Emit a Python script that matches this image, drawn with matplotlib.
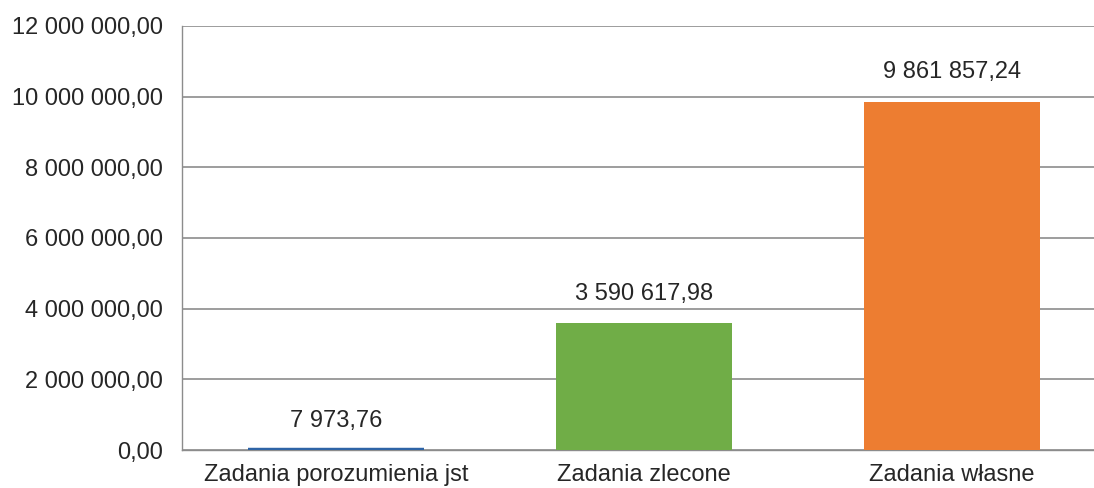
import matplotlib
matplotlib.use('Agg')
import matplotlib.pyplot as plt
from matplotlib.ticker import FuncFormatter

categories = ['Zadania porozumienia jst', 'Zadania zlecone', 'Zadania własne']
values = [7973.76, 3590617.98, 9861857.24]
colors = ['#2E64A6', '#70AD47', '#ED7D31']
yticks = [0, 2000000, 4000000, 6000000, 8000000, 10000000, 12000000]

plt.rcParams['font.family'] = ['Liberation Sans', 'DejaVu Sans']


def pl_fmt(v, pos=None):
    s = f'{v:,.2f}'
    return s.replace(',', ' ').replace('.', ',')


fig = plt.figure(figsize=(10.94, 4.88), dpi=100)
ax = fig.add_axes([182 / 1094, 38 / 488, 924 / 1094, 424 / 488])

x = range(len(categories))
# edge only on the tiny first bar so it still shows as a thin line, like Excel
ax.bar(x, values, width=0.57, color=colors, edgecolor=colors,
       linewidth=[3.2, 0, 0], zorder=3)
for xi, v in zip(x, values):
    ax.annotate(pl_fmt(v), (xi, v), xytext=(0, 13), textcoords='offset points',
                ha='center', va='bottom', fontsize=17, color='#262626')

ax.set_xlim(-0.5, 2.5)
ax.set_ylim(0, 12000000)
ax.set_yticks(yticks)
ax.yaxis.set_major_formatter(FuncFormatter(pl_fmt))
ax.set_xticks(list(x))
ax.set_xticklabels(categories)
ax.tick_params(axis='both', length=0, labelsize=17, colors='#262626')
ax.tick_params(axis='y', pad=14)
ax.tick_params(axis='x', pad=10)
ax.grid(axis='y', color='#8C8C8C', lw=1.2, zorder=0)
for s in ['top', 'right']:
    ax.spines[s].set_visible(False)
for s in ['left', 'bottom']:
    ax.spines[s].set_color('#8C8C8C')
    ax.spines[s].set_linewidth(1.0)
    ax.spines[s].set_zorder(2)

fig.savefig('out.png', dpi=100)
